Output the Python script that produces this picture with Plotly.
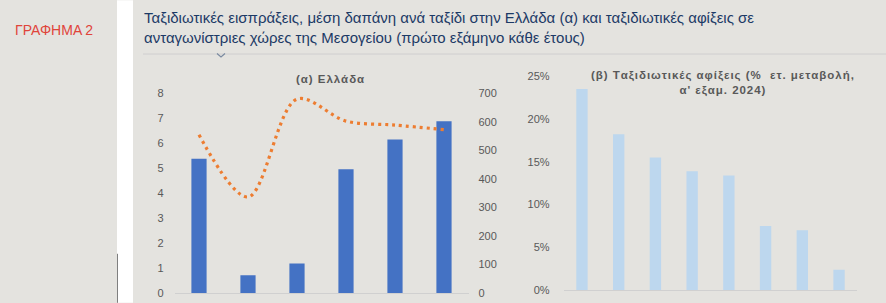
import plotly.graph_objects as go

W, H = 886, 303

# ---- data ----
periods = ["Α' εξ. 2019", "Α' εξ. 2020", "Α' εξ. 2021", "Α' εξ. 2022", "Α' εξ. 2023", "Α' εξ. 2024"]
receipts_bn = [5.38, 0.72, 1.19, 4.96, 6.15, 6.88]          # left axis (€ δισ.)
spend_per_trip = [555, 337, 680, 603, 589, 573]            # right axis (€)

countries = ["Χώρα 1", "Χώρα 2", "Χώρα 3", "Χώρα 4", "Χώρα 5", "Χώρα 6", "Χώρα 7", "Χώρα 8"]
arrivals_pct = [23.5, 18.2, 15.5, 13.9, 13.4, 7.5, 7.0, 2.4]

left_ticks = [0, 1, 2, 3, 4, 5, 6, 7, 8]
right_ticks = [0, 100, 200, 300, 400, 500, 600, 700]
pct_ticks = [0, 5, 10, 15, 20, 25]

title_a = "(α) Ελλάδα"
title_b1 = "(β) Ταξιδιωτικές αφίξεις (%  ετ. μεταβολή,"
title_b2 = "α' εξαμ. 2024)"

def px(x):
    return x / W

def py(y):
    return 1 - y / H

def spaced(s):
    # emulate the letter-spacing of the original panel titles
    return "\u200a".join(s)

BG = "#e4e3df"
TICK = "#595959"
FONT = "Liberation Sans, Arial, sans-serif"

fig = go.Figure()

fig.add_trace(go.Bar(x=periods, y=receipts_bn, marker=dict(color="#4472c4", line=dict(width=0)),
                     xaxis="x", yaxis="y", showlegend=False))
fig.add_trace(go.Scatter(x=periods, y=spend_per_trip, mode="lines",
                         line=dict(color="#ed7d31", width=3.2, dash="3px,4px", shape="spline", smoothing=0.95),
                         xaxis="x", yaxis="y2", showlegend=False))
fig.add_trace(go.Bar(x=countries, y=arrivals_pct, marker=dict(color="#bdd7ee", line=dict(width=0)),
                     xaxis="x2", yaxis="y3", showlegend=False))

axfont = dict(family=FONT, size=11, color=TICK)

fig.update_layout(
    width=W, height=H,
    margin=dict(l=0, r=0, t=0, b=0),
    paper_bgcolor=BG, plot_bgcolor=BG,
    bargap=0.69,
    font=dict(family=FONT),
    xaxis=dict(domain=[px(174.5), px(468.5)], anchor="y", showticklabels=False, ticks="",
               showline=True, linecolor="#d0d0d0", linewidth=1, showgrid=False, zeroline=False),
    yaxis=dict(domain=[py(299), py(91)], range=[0, 8], tickvals=left_ticks, showgrid=False,
               zeroline=False, showline=False, tickfont=axfont, ticklabelstandoff=10),
    yaxis2=dict(domain=[py(299), py(91)], range=[0, 700], tickvals=right_ticks, overlaying="y",
                side="right", anchor="x", showgrid=False, zeroline=False, showline=False,
                tickfont=axfont, ticklabelstandoff=9),
    xaxis2=dict(domain=[px(563.6), px(857.4)], anchor="y3", showticklabels=False, ticks="",
                showline=True, linecolor="#d0d0d0", linewidth=1, showgrid=False, zeroline=False),
    yaxis3=dict(domain=[py(296), py(73)], range=[0, 25], tickvals=pct_ticks,
                ticktext=[f"{v}%" for v in pct_ticks], anchor="x2", showgrid=False, zeroline=False,
                showline=False, tickfont=axfont, ticklabelstandoff=13),
)

shapes = [
    # white gap between side panel and main panel
    dict(type="rect", xref="paper", yref="paper", x0=px(117), x1=px(133), y0=-0.02, y1=1.02,
         fillcolor="white", line=dict(width=0), layer="below"),
    dict(type="line", xref="paper", yref="paper", x0=px(117.5), x1=px(117.5), y0=py(258), y1=-0.02,
         line=dict(color="#7f7f7f", width=1)),
    # separator under the title
    dict(type="line", xref="paper", yref="paper", x0=px(143), x1=1, y0=py(50), y1=py(50),
         line=dict(color="#cfcfcf", width=1)),
    dict(type="path", xref="paper", yref="paper",
         path=f"M{px(217)},{py(49.5)} L{px(221)},{py(53)} L{px(225)},{py(49.5)}",
         line=dict(color="#7a8aa0", width=1.2)),
]
fig.update_layout(shapes=shapes)

annotations = [
    dict(text="ΓΡΑΦΗΜΑ 2", x=px(13), y=py(25), xanchor="left", yanchor="middle",
         font=dict(family=FONT, size=14, color="#e0443a")),
    dict(text="Ταξιδιωτικές εισπράξεις, μέση δαπάνη ανά ταξίδι στην Ελλάδα (α) και ταξιδιωτικές αφίξεις σε<br>"
              "ανταγωνίστριες χώρες της Μεσογείου (πρώτο εξάμηνο κάθε έτους)",
         x=px(142), y=py(1), xanchor="left", yanchor="top", align="left",
         font=dict(family=FONT, size=15, color="#1c3a66")),
    dict(text="<b>" + spaced(title_a) + "</b>", x=px(330), y=py(76), xanchor="center", yanchor="middle",
         font=dict(family=FONT, size=11.5, color=TICK)),
    dict(text="<b>" + spaced(title_b1) + "<br>" + spaced(title_b2) + "</b>",
         x=px(722), y=py(63), xanchor="center", yanchor="top", align="center",
         font=dict(family=FONT, size=11.5, color=TICK)),
]
for a in annotations:
    a.update(xref="paper", yref="paper", showarrow=False)
fig.update_layout(annotations=annotations)

fig.write_html("out.html")
